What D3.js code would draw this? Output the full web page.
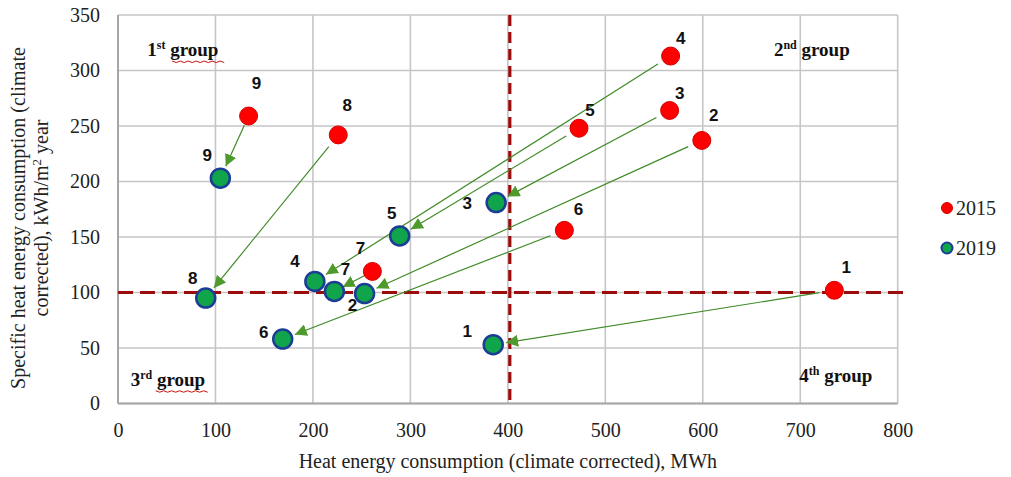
<!DOCTYPE html>
<html><head><meta charset="utf-8">
<script src="https://cdn.jsdelivr.net/npm/d3@7"></script>
<style>body{margin:0;background:#fff}svg{display:block}</style>
</head><body>
<script>
// ---- data ----
const buildings = ["1","2","3","4","5","6","7","8","9"];
const x2015 = [735, 599, 566, 567, 473, 458, 261, 226, 134];
const y2015 = [102, 237, 264, 313, 248, 156, 119, 242, 259];
const x2019 = [385, 253, 388, 202, 289, 169, 222, 90, 105];
const y2019 = [53, 99, 181, 110, 151, 58, 101, 95, 203];
const xTicks = [0,100,200,300,400,500,600,700,800];
const yTicks = [0,50,100,150,200,250,300,350];
const thresholdX = 402;
const thresholdY = 100;
const seriesNames = ["2015","2019"];
const groupNames = ["1st group","2nd group","3rd group","4th group"];

// ---- layout (pixel offsets for labels) ----
const lab2015 = [[12,-23],[12,-25],[10,-17],[10,-18],[11,-18],[14,-21],[-12,-23],[9,-30],[8,-33]];
const lab2019 = [[-26,-14],[-12,11],[-29,0],[-20,-20],[-8,-23],[-19,-7],[11,-22],[-13,-20],[-13,-23]];

const W=1011,H=477;
const svg=d3.select("body").append("svg").attr("width",W).attr("height",H);
const x=d3.scaleLinear().domain([0,800]).range([118,897.7]);
const y=d3.scaleLinear().domain([0,350]).range([403.5,15]);
const serif="'Liberation Serif','Times New Roman',serif";
const sans="'Liberation Sans',Arial,sans-serif";

// grid
const g=svg.append("g");
g.selectAll("line.vx").data(xTicks).join("line")
 .attr("x1",d=>x(d)).attr("x2",d=>x(d)).attr("y1",y(0)).attr("y2",y(350))
 .attr("stroke","#c6c6c6").attr("stroke-width",1.6);
g.selectAll("line.hy").data(yTicks).join("line")
 .attr("y1",d=>y(d)).attr("y2",d=>y(d)).attr("x1",x(0)).attr("x2",x(800))
 .attr("stroke","#c6c6c6").attr("stroke-width",1.6);
// axes lines
g.append("line").attr("x1",x(0)).attr("x2",x(0)).attr("y1",y(0)).attr("y2",y(350)).attr("stroke","#a6a6a6").attr("stroke-width",2);
g.append("line").attr("x1",x(0)).attr("x2",x(800)).attr("y1",y(0)).attr("y2",y(0)).attr("stroke","#a6a6a6").attr("stroke-width",2);

// axis tick labels
const xa=d3.axisBottom(x).tickValues(xTicks).tickSize(0).tickPadding(19);
svg.append("g").attr("transform",`translate(0,${y(0)})`).call(xa)
 .call(s=>s.select(".domain").remove())
 .selectAll("text").attr("font-family",serif).attr("font-size",20).attr("fill","#222");
const ya=d3.axisLeft(y).tickValues(yTicks).tickSize(0).tickPadding(18);
svg.append("g").attr("transform",`translate(${x(0)},0)`).call(ya)
 .call(s=>s.select(".domain").remove())
 .selectAll("text").attr("font-family",serif).attr("font-size",20).attr("fill","#222");

// axis titles
svg.append("text").attr("x",(x(0)+x(800))/2).attr("y",468).attr("text-anchor","middle")
 .attr("font-family",serif).attr("font-size",20).attr("fill","#222")
 .text("Heat energy consumption (climate corrected), MWh");
const yt=svg.append("text").attr("transform",`translate(25,218) rotate(-90)`).attr("text-anchor","middle")
 .attr("font-family",serif).attr("font-size",20).attr("fill","#222");
yt.append("tspan").attr("x",0).attr("dy",0).text("Specific heat energy consumption (climate");
const t2=yt.append("tspan").attr("x",0).attr("dy",23).text("corrected), kWh/m");
t2.append("tspan").attr("baseline-shift","super").attr("font-size",13).text("2");
yt.append("tspan").text(" year");

// threshold dashed lines
svg.append("line").attr("x1",x(0)).attr("x2",x(810)).attr("y1",y(thresholdY)).attr("y2",y(thresholdY))
 .attr("stroke","#9b0d0d").attr("stroke-width",3.2).attr("stroke-dasharray","15,7");
svg.append("line").attr("x1",x(thresholdX)).attr("x2",x(thresholdX)).attr("y1",y(350)).attr("y2",y(0))
 .attr("stroke","#9b0d0d").attr("stroke-width",3.2).attr("stroke-dasharray","11,6");

// group labels
const grpPos=[[x(30),y(313)],[x(673),y(313)],[x(13),y(16)],[x(699),y(19)]];
const sup=["st","nd","rd","th"];
groupNames.forEach((n,i)=>{
  const t=svg.append("text").attr("x",grpPos[i][0]).attr("y",grpPos[i][1])
   .attr("font-family",serif).attr("font-weight","bold").attr("font-size",19).attr("fill","#111");
  t.append("tspan").text(n[0]);
  t.append("tspan").attr("baseline-shift","super").attr("font-size",12).text(sup[i]);
  t.append("tspan").text(" group");
});
// spell-check squiggles under "group" of 1st and 3rd
[0,2].forEach(i=>{
  const x0=grpPos[i][0]+25, yy=grpPos[i][1]+5;
  const pts=d3.range(0,14).map(k=>[x0+k*4,yy+(k%2?1.5:0)]);
  svg.append("path").attr("d",d3.line()(pts)).attr("fill","none").attr("stroke","#d01010").attr("stroke-width",1);
});

// arrows
svg.append("defs").append("marker").attr("id","ah").attr("viewBox","0 0 12 12")
 .attr("refX",12).attr("refY",6).attr("markerWidth",12).attr("markerHeight",12)
 .attr("markerUnits","userSpaceOnUse").attr("orient","auto")
 .append("path").attr("d","M0,0 L12,6 L0,12 Z").attr("fill","#4f9a2c");
buildings.forEach((b,i)=>{
  const sx=x(x2015[i]),sy=y(y2015[i]),ex=x(x2019[i]),ey=y(y2019[i]);
  const dx=ex-sx,dy=ey-sy,L=Math.hypot(dx,dy),ux=dx/L,uy=dy/L;
  const s0=Math.min(15,L*0.15), s1=Math.min(13,L*0.22);
  svg.append("line").attr("x1",sx+ux*s0).attr("y1",sy+uy*s0).attr("x2",ex-ux*s1).attr("y2",ey-uy*s1)
   .attr("stroke","#3f8a26").attr("stroke-width",1.2).attr("marker-end","url(#ah)");
});

// points
svg.selectAll("circle.p19").data(buildings).join("circle")
 .attr("cx",(d,i)=>x(x2019[i])).attr("cy",(d,i)=>y(y2019[i])).attr("r",9.5)
 .attr("fill","#10a54a").attr("stroke","#1b3d95").attr("stroke-width",2.5);
svg.selectAll("circle.p15").data(buildings).join("circle")
 .attr("cx",(d,i)=>x(x2015[i])).attr("cy",(d,i)=>y(y2015[i])).attr("r",9)
 .attr("fill","#ff0000").attr("stroke","#d40000").attr("stroke-width",1);

// point labels
const lab=(xs,ys,offs)=>svg.append("g").selectAll("text").data(buildings).join("text")
 .attr("x",(d,i)=>x(xs[i])+offs[i][0]).attr("y",(d,i)=>y(ys[i])+offs[i][1]+6)
 .attr("text-anchor","middle").attr("font-family",sans).attr("font-weight","bold")
 .attr("font-size",17).attr("fill","#111").text(d=>d);
lab(x2015,y2015,lab2015);
lab(x2019,y2019,lab2019);

// legend
const lg=svg.append("g");
seriesNames.forEach((n,i)=>{
  const yy=208+i*40;
  lg.append("circle").attr("cx",947).attr("cy",yy).attr("r",5.5)
   .attr("fill",i?"#10a54a":"#ff0000").attr("stroke",i?"#1b3d95":"#d40000").attr("stroke-width",i?2:1);
  lg.append("text").attr("x",956).attr("y",yy+7).attr("font-family",serif).attr("font-size",20).attr("fill","#222").text(n);
});
</script>
</body></html>
